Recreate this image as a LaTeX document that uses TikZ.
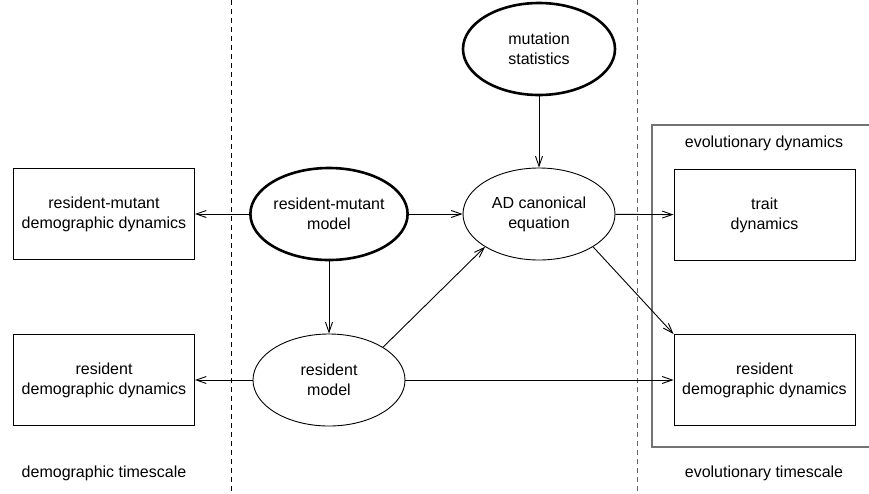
\documentclass[tikz,border=0pt]{standalone}
\usepackage{fontspec}
\setmainfont{Liberation Sans}
\usetikzlibrary{arrows.meta,shapes.geometric}

\begin{document}
\begin{tikzpicture}[x=1pt, y=-1pt,
    model/.style={draw, ellipse, line width=0.9pt, minimum width=152pt, minimum height=92pt, inner sep=0pt, align=center, font=\fontsize{16}{20}\selectfont},
    keymodel/.style={model, line width=2.6pt},
    dynbox/.style={draw, line width=0.9pt, minimum width=181pt, minimum height=91pt, inner sep=0pt, align=center, font=\fontsize{16}{20}\selectfont},
    link/.style={line width=0.9pt, -{Straight Barb[length=10pt, width=7pt]}},
    divider/.style={line width=0.9pt, dash pattern=on 5pt off 4pt},
    caption/.style={font=\fontsize{16}{20}\selectfont},
]
\useasboundingbox (0,0) rectangle (869,493);

% timescale separators and evolutionary frame
\draw[divider] (231,0) -- (231,493);
\draw[divider, black!60] (637,0) -- (637,493);
\draw[black!55, line width=1.4pt] (869,125) -- (652,125) -- (652,447) -- (869,447);

% models
\node[keymodel] (mutstat) at (539,49) {mutation\\statistics};
\node[keymodel] (rmmodel) at (329,214) {resident-mutant\\model};
\node[model] (adeq) at (539,214) {AD canonical\\equation};
\node[model] (resmodel) at (329,380) {resident\\model};

% dynamics
\node[dynbox] (rmdem) at (104,214) {resident-mutant\\demographic dynamics};
\node[dynbox] (resdem) at (104,380) {resident\\demographic dynamics};
\node[dynbox] (trait) at (764.5,215) {trait\\dynamics};
\node[dynbox] (resdemevo) at (764.5,380) {resident\\demographic dynamics};

% labels
\node[caption] (evolab) at (764,143) {evolutionary dynamics};
\node[caption] (demscale) at (104,473) {demographic timescale};
\node[caption] (evoscale) at (764,473) {evolutionary timescale};

% connectors
\draw[link] (rmmodel) -- (rmdem);
\draw[link] (rmmodel) -- (adeq);
\draw[link] (rmmodel) -- (resmodel);
\draw[link] (mutstat) -- (adeq);
\draw[link] (resmodel.north east) -- (adeq.south west);
\draw[link] (resmodel) -- (resdem);
\draw[link] (resmodel) -- (resdemevo);
\draw[link] (adeq) -- (trait);
\draw[link] (adeq.south east) -- (resdemevo.north west);
\end{tikzpicture}
\end{document}
